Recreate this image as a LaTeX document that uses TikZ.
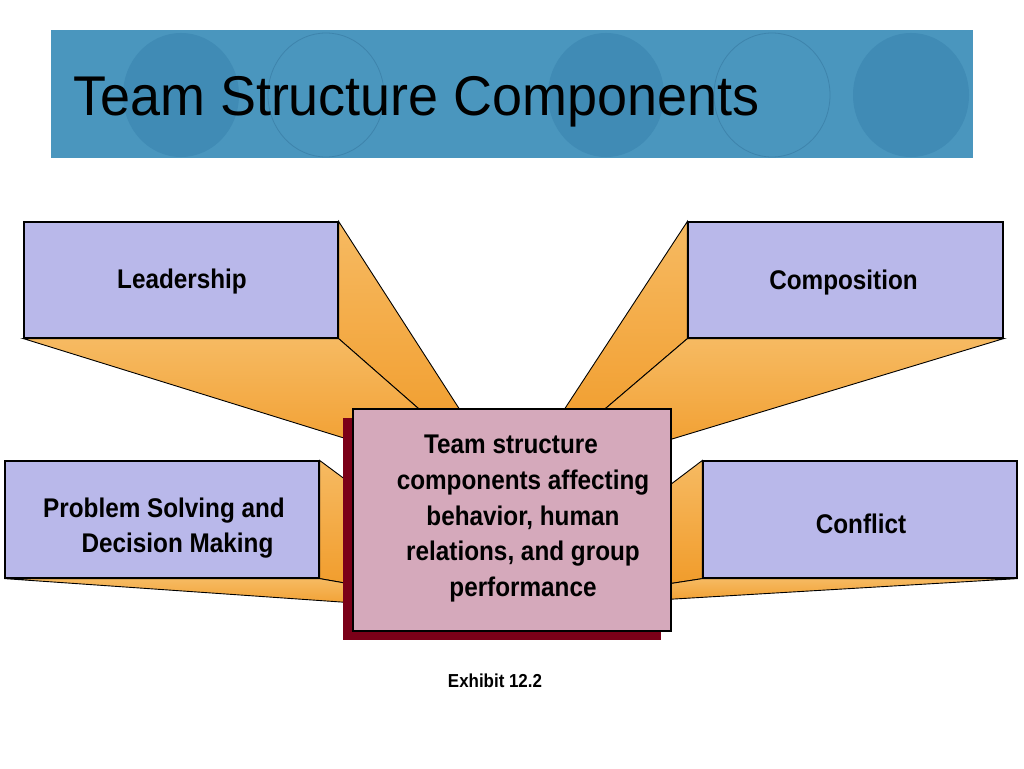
\documentclass[tikz,border=0pt]{standalone}
\usepackage{fontspec}
\setmainfont{Liberation Sans}
\newfontfamily\boxfont[FakeStretch=0.9]{Liberation Sans}
\newfontfamily\titlefont[FakeStretch=0.963]{Liberation Sans}
\usetikzlibrary{shadows}

\definecolor{banner}{RGB}{74,150,190}
\definecolor{bannerdark}{RGB}{64,139,181}
\definecolor{bannerline}{RGB}{62,132,172}
\definecolor{lavender}{RGB}{185,184,234}
\definecolor{rosebox}{RGB}{213,169,187}
\definecolor{maroon}{RGB}{123,0,24}
\definecolor{orlight}{RGB}{246,186,98}
\definecolor{ordark}{RGB}{240,150,32}

\pgfdeclarelayer{back}
\pgfsetlayers{back,main}

\begin{document}
\begin{tikzpicture}[x=1pt, y=-1pt,
	compbox/.style={draw, line width=1.2pt, fill=lavender, minimum width=314pt, minimum height=116pt, inner sep=0pt},
	corebox/.style={draw, line width=1.2pt, fill=rosebox, minimum width=318pt, minimum height=222pt,
		drop shadow={shadow xshift=-10pt, shadow yshift=-9pt, fill=maroon, opacity=1}},
	face/.style={draw, line width=0.9pt, top color=orlight, bottom color=ordark},
	lbl/.style={font=\boxfont\bfseries\fontsize{27}{35.7}\selectfont, align=center, inner sep=0pt}]

		\useasboundingbox (0,0) rectangle (1024,768);

		% title banner
		\fill[banner] (51,30) rectangle (973,158);
		\begin{scope}
			\clip (51,30) rectangle (973,158);
			\foreach \cx in {181,606,911}
				\fill[bannerdark] (\cx,95) ellipse [x radius=58pt, y radius=62pt];
			\foreach \cx in {326,772}
				\draw[bannerline, line width=0.8pt] (\cx,95) ellipse [x radius=58pt, y radius=62pt];
		\end{scope}
		\node[anchor=base west, font=\titlefont\fontsize{56}{62}\selectfont, inner sep=0pt] (title) at (73,115) {Team Structure Components};

		% component boxes
		\node[compbox] (lead) at (181,280) {};
		\node[compbox, minimum width=315pt] (compo) at (845.5,280) {};
		\node[compbox, minimum height=117pt] (prob) at (162,519.5) {};
		\node[compbox, minimum height=117pt] (confl) at (860,519.5) {};

		\coordinate (vlead) at (511.5,490);
		\coordinate (vcompo) at (513.5,487);
		\coordinate (vprob) at (528,615);
		\coordinate (vconfl) at (506,609);

		% orange sides
		\begin{pgfonlayer}{back}
			\fill[white] (0,0) rectangle (1024,768);
			\draw[face] (lead.north east) -- (vlead) -- (lead.south east) -- cycle;
			\draw[face] (lead.south east) -- (vlead) -- (lead.south west) -- cycle;
			\draw[face] (compo.north west) -- (vcompo) -- (compo.south west) -- cycle;
			\draw[face] (compo.south west) -- (vcompo) -- (compo.south east) -- cycle;
			\draw[face] (prob.north east) -- (vprob) -- (prob.south east) -- cycle;
			\draw[face] (prob.south east) -- (vprob) -- (prob.south west) -- cycle;
			\draw[face] (confl.north west) -- (vconfl) -- (confl.south west) -- cycle;
			\draw[face] (confl.south west) -- (vconfl) -- (confl.south east) -- cycle;
		\end{pgfonlayer}

		% centre box
		\node[corebox] (core) at (512,520) {};
		\node[lbl, anchor=north] (coretext) at (523,435) {Team structure\hspace{24pt}\null\\ components affecting\\ behavior, human\\ relations, and group\\ performance};

		\node[lbl, anchor=base] (leadtext) at (182,288) {Leadership};
		\node[lbl, anchor=base] (compotext) at (843.5,289) {Composition};
		\node[lbl, anchor=north] (probtext) at (164,497.5) {Problem Solving and\\\null\hspace{27pt}Decision Making};
		\node[lbl, anchor=base] (confltext) at (861,533) {Conflict};

		\node[anchor=base, font=\boxfont\bfseries\fontsize{18.8}{22}\selectfont, inner sep=0pt] (exhibit) at (495,687) {Exhibit 12.2};

	\end{tikzpicture}
\end{document}
